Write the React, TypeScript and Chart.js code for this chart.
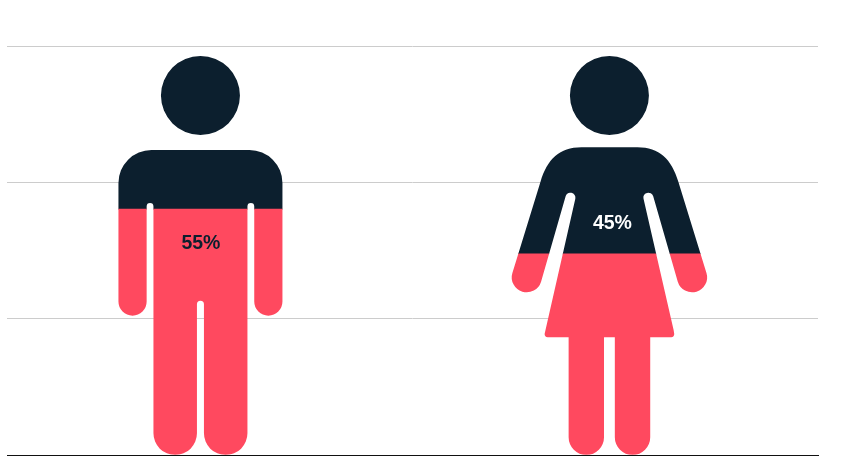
import React, { useEffect, useRef } from 'react';
import { Chart, registerables } from 'chart.js';

Chart.register(...registerables);

const categories = ['Men', 'Women'];
const shareValues = [55, 45];
const figureTops = [89.3, 89.3];
const tickStep = 30.5;
const axisMax = 91.5;

const DARK = '#0c1f2e';
const RED = '#ff495f';
const deg = (a: number) => (a * Math.PI) / 180;

// silhouettes are drawn around the bar centre (cx), h is height above the baseline
function addHead(path: Path2D, cx: number, base: number) {
  path.moveTo(cx + 39.5, base - 359.5);
  path.arc(cx, base - 359.5, 39.5, 0, Math.PI * 2);
}

function manPath(cx: number, base: number) {
  const p = new Path2D();
  const X = (d: number) => cx + d;
  const Y = (h: number) => base - h;
  addHead(p, cx, base);

  p.moveTo(X(-49), Y(305));
  p.lineTo(X(49), Y(305));
  p.arcTo(X(82), Y(305), X(82), Y(272), 33);
  // right arm
  p.lineTo(X(82), Y(153.4));
  p.arc(X(67.9), Y(153.4), 14.1, 0, Math.PI);
  p.lineTo(X(53.8), Y(248.6));
  p.arc(X(50.4), Y(248.6), 3.4, 0, Math.PI, true);
  // legs
  p.lineTo(X(47), Y(21.75));
  p.arc(X(25.25), Y(21.75), 21.75, 0, Math.PI);
  p.lineTo(X(3.5), Y(150.8));
  p.arc(X(0), Y(150.8), 3.5, 0, Math.PI, true);
  p.lineTo(X(-3.5), Y(21.75));
  p.arc(X(-25.25), Y(21.75), 21.75, 0, Math.PI);
  p.lineTo(X(-47), Y(248.6));
  p.arc(X(-50.4), Y(248.6), 3.4, 0, Math.PI, true);
  // left arm
  p.lineTo(X(-53.8), Y(153.4));
  p.arc(X(-67.9), Y(153.4), 14.1, 0, Math.PI);
  p.lineTo(X(-82), Y(272));
  p.arcTo(X(-82), Y(305), X(-49), Y(305), 33);
  p.closePath();
  return p;
}

function womanPath(cx: number, base: number) {
  const p = new Path2D();
  const X = (d: number) => cx + d;
  const Y = (h: number) => base - h;
  addHead(p, cx, base);

  p.moveTo(X(-28), Y(307.7));
  p.lineTo(X(28), Y(307.7));
  p.bezierCurveTo(X(50), Y(307.7), X(62), Y(296), X(69), Y(273));
  // right arm
  p.arc(X(82.7), Y(177.7), 15, deg(-17), deg(163));
  p.arc(X(39), Y(257.3), 5, deg(-17), deg(168), true);
  // skirt and legs
  p.lineTo(X(64.2), Y(125));
  p.arcTo(X(65.3), Y(117.7), X(40.8), Y(117.7), 3);
  p.lineTo(X(40.8), Y(117.7));
  p.lineTo(X(40.8), Y(17.7));
  p.arc(X(23.1), Y(17.7), 17.7, 0, Math.PI);
  p.lineTo(X(5.4), Y(117.7));
  p.lineTo(X(-5.4), Y(117.7));
  p.lineTo(X(-5.4), Y(17.7));
  p.arc(X(-23.1), Y(17.7), 17.7, 0, Math.PI);
  p.lineTo(X(-40.8), Y(117.7));
  p.arcTo(X(-65.3), Y(117.7), X(-64.2), Y(125), 3);
  p.arc(X(-39), Y(257.3), 5, deg(12), deg(197), true);
  // left arm
  p.arc(X(-82.7), Y(177.7), 15, deg(17), deg(197));
  p.lineTo(X(-69), Y(273));
  p.bezierCurveTo(X(-62), Y(296), X(-50), Y(307.7), X(-28), Y(307.7));
  p.closePath();
  return p;
}

// clips the bars to the two figures
const figureClip = {
  id: 'figureClip',
  beforeDatasetsDraw(chart: Chart) {
    const { ctx, scales } = chart;
    const base = scales.y.getPixelForValue(0);
    const clipPath = new Path2D();
    clipPath.addPath(manPath(scales.x.getPixelForValue(0), base));
    clipPath.addPath(womanPath(scales.x.getPixelForValue(1), base));
    ctx.save();
    ctx.clip(clipPath);
  },
  afterDatasetsDraw(chart: Chart) {
    chart.ctx.restore();
  },
};

const shareLabels = {
  id: 'shareLabels',
  afterDatasetsDraw(chart: Chart) {
    const { ctx, scales } = chart;
    const offsetsX = [0.5, 3];
    const offsetsY = [40, -25];
    const colors = [DARK, '#ffffff'];
    ctx.save();
    ctx.font = 'bold 19.5px "Liberation Sans"';
    ctx.textAlign = 'center';
    ctx.textBaseline = 'alphabetic';
    shareValues.forEach((value, i) => {
      ctx.fillStyle = colors[i];
      ctx.fillText(
        `${value}%`,
        scales.x.getPixelForValue(i) + offsetsX[i],
        scales.y.getPixelForValue(value) + offsetsY[i],
      );
    });
    ctx.restore();
  },
};

function App() {
  const chartRef = useRef<HTMLCanvasElement>(null);

  useEffect(() => {
    if (!chartRef.current) return;
    document.body.style.margin = '0';

    const chart = new Chart(chartRef.current, {
      type: 'bar',
      data: {
        labels: categories,
        datasets: [
          {
            label: 'Share',
            data: shareValues.map((y, x) => ({ x, y })),
            backgroundColor: RED,
            barThickness: 230,
            grouped: false,
          },
          {
            label: 'Rest',
            data: figureTops.map((top, x) => ({ x, y: [shareValues[x], top] })),
            backgroundColor: DARK,
            barThickness: 230,
            grouped: false,
          },
        ],
      } as any,
      options: {
        responsive: false,
        devicePixelRatio: 1,
        animation: false,
        layout: { padding: { left: 7, right: 46, top: 46, bottom: 1 } },
        plugins: {
          legend: { display: false },
          title: { display: false },
          tooltip: { enabled: false },
        },
        scales: {
          x: {
            type: 'linear',
            offset: false,
            // bar centres sit 409px apart, a bit wider than two equal bands
            min: -0.473,
            max: 1.51,
            grid: { display: false, drawTicks: false },
            border: { display: true, color: '#111111', width: 1 },
            ticks: { display: false, padding: 0 },
          },
          y: {
            min: 0,
            max: axisMax,
            grid: { color: '#cccccc', lineWidth: 1, drawTicks: false },
            border: { display: false },
            ticks: { display: false, padding: 0, stepSize: tickStep },
          },
        },
      },
      plugins: [figureClip, shareLabels],
    });

    return () => {
      chart.destroy();
    };
  }, []);

  return <canvas ref={chartRef} width={864} height={456} style={{ display: 'block' }}></canvas>;
}

export default App;
